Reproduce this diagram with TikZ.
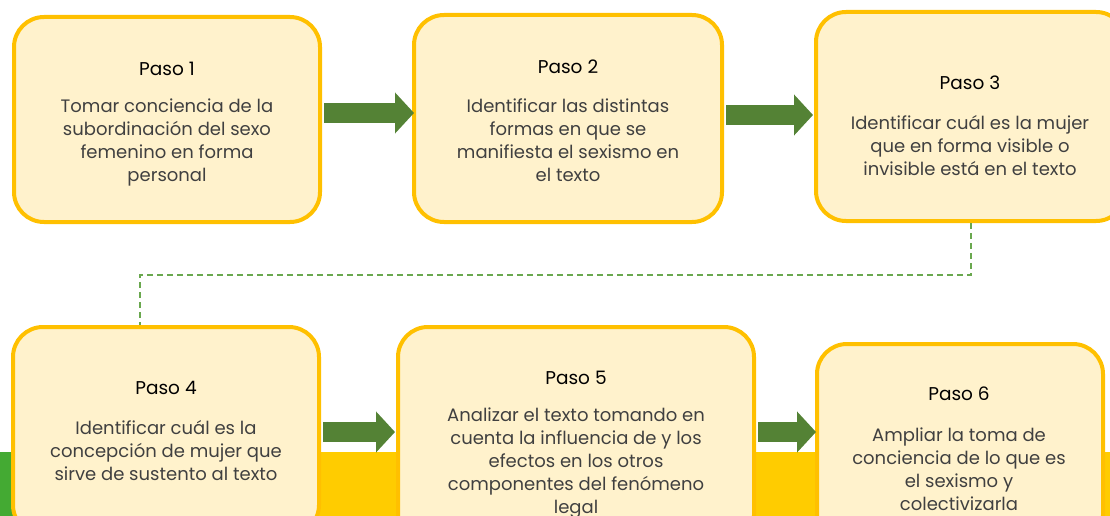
\documentclass[tikz,border=0pt]{standalone}
\usepackage{fontspec}
\setmainfont{Poppins}
\usetikzlibrary{arrows.meta}
\definecolor{pasofill}{HTML}{FFF2CC}
\definecolor{pasoborder}{HTML}{FFC000}
\definecolor{flechagreen}{HTML}{548235}
\definecolor{dashgreen}{HTML}{6AA84F}
\definecolor{bandyellow}{HTML}{FFCC00}
\definecolor{bandgreen}{HTML}{44AA33}
\definecolor{bodygray}{HTML}{404040}
\begin{document}
\begin{tikzpicture}[x=1pt,y=-1pt,
  paso/.style={draw=pasoborder,fill=pasofill,line width=4pt,rounded corners=30pt},
  titulo/.style={font=\fontsize{18.5}{20}\selectfont,text=black},
  cuerpo/.style={font=\fontsize{18}{23}\selectfont,text=bodygray,align=center},
  flecha/.style={draw=flechagreen,line width=20pt,-{Triangle[length=19pt,width=40pt]}}]
\useasboundingbox (0,0) rectangle (1110,516);
\clip (0,0) rectangle (1110,516);
%band at the bottom
\fill[bandyellow] (0,452) rectangle (1110,516);
\fill[bandgreen] (0,452) rectangle (13,516);
%boxes
\node[paso,minimum width=306pt,minimum height=205pt] (Paso_1) at (167,119.5) {};
\node[paso,minimum width=308pt,minimum height=207pt] (Paso_2) at (568,118.5) {};
\node[paso,minimum width=310pt,minimum height=209pt] (Paso_3) at (971,116.5) {};
\node[paso,minimum width=306pt,minimum height=208pt] (Paso_4) at (166,431) {};
\node[paso,minimum width=356pt,minimum height=218pt] (Paso_5) at (576,436) {};
\node[paso,minimum width=286pt,minimum height=201pt] (Paso_6) at (960,444.5) {};
%texts
\node[titulo] (T_1) at (167,69) {Paso 1};
\node[cuerpo] (C_1) at (167,142) {Tomar conciencia de la\\subordinación del sexo\\femenino en forma\\personal};
\node[titulo] (T_2) at (568,67) {Paso 2};
\node[cuerpo] (C_2) at (568,140) {Identificar las distintas\\formas en que se\\manifiesta el sexismo en\\el texto};
\node[titulo] (T_3) at (970,83) {Paso 3};
\node[cuerpo] (C_3) at (970,146) {Identificar cuál es la mujer\\que en forma visible o\\invisible está en el texto};
\node[titulo] (T_4) at (166,388) {Paso 4};
\node[cuerpo] (C_4) at (166,451) {Identificar cuál es la\\concepción de mujer que\\sirve de sustento al texto};
\node[titulo] (T_5) at (576,378) {Paso 5};
\node[cuerpo] (C_5) at (576,463) {Analizar el texto tomando en\\cuenta la influencia de y los\\efectos en los otros\\componentes del fenómeno\\legal};
\node[titulo] (T_6) at (959,394) {Paso 6};
\node[cuerpo] (C_6) at (959,469) {Ampliar la toma de\\conciencia de lo que es\\el sexismo y\\colectivizarla};
%arrows
\draw[flecha] ([xshift=2pt,yshift=6.5pt]Paso_1.east) -- ([xshift=2pt,yshift=5.5pt]Paso_2.west);
\draw[flecha] ([xshift=2pt,yshift=3.5pt]Paso_2.east) -- ([xshift=-1pt,yshift=1.5pt]Paso_3.west);
\draw[flecha] ([xshift=2pt,yshift=-1pt]Paso_4.east) -- ([xshift=-1pt,yshift=4pt]Paso_5.west);
\draw[flecha] ([xshift=2pt,yshift=4pt]Paso_5.east) -- ([xshift=1pt,yshift=12.5pt]Paso_6.west);
\coordinate (bend) at (560,275);
\draw[dashgreen,line width=2pt,dash pattern=on 6pt off 4pt] (Paso_3.south) |- (bend) -| ([xshift=-26pt]Paso_4.north);
\end{tikzpicture}
\end{document}
